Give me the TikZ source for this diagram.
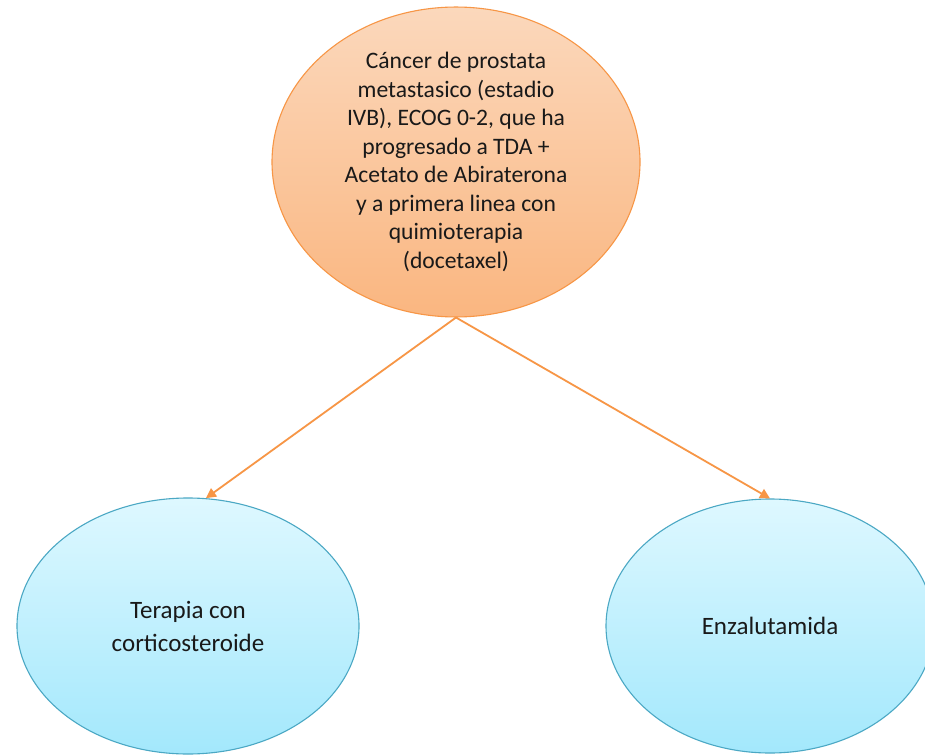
\documentclass[tikz,border=0pt]{standalone}
\usepackage{fontspec}
\setmainfont{Carlito}
\usetikzlibrary{shapes.geometric,arrows.meta,calc}
\definecolor{orgborder}{RGB}{247,150,70}
\definecolor{orgtop}{RGB}{251,216,188}
\definecolor{orgbot}{RGB}{250,182,128}
\definecolor{bluborder}{RGB}{75,168,196}
\definecolor{blutop}{RGB}{222,248,255}
\definecolor{blubot}{RGB}{163,232,252}
\definecolor{txt}{RGB}{25,25,25}
\tikzset{
  orangeell/.style={ellipse, draw=orgborder, line width=1.1pt, top color=orgtop, bottom color=orgbot,
    inner sep=0pt, align=center, text=txt, font=\fontsize{23.6}{28.5}\selectfont},
  blueell/.style={ellipse, draw=bluborder, line width=1.1pt, top color=blutop, bottom color=blubot,
    inner sep=0pt, align=center, text=txt, font=\fontsize{25}{33}\selectfont},
  conn/.style={draw=orgborder, line width=1.8pt, -{Triangle[length=10pt,width=10pt]}, color=orgborder}
}
\begin{document}
\begin{tikzpicture}[x=1pt,y=-1pt]
\useasboundingbox (0,0) rectangle (925,754);
\clip (0,0) rectangle (925,754);
\fill[white] (0,0) rectangle (925,754);
\node[orangeell, minimum width=368pt, minimum height=292pt] (top) at (456,162)
  {Cáncer de prostata\\metastasico (estadio\\IVB), ECOG 0-2, que ha\\progresado a TDA +\\Acetato de Abiraterona\\y a primera linea con\\quimioterapia\\(docetaxel)};
\node[blueell, minimum width=342pt, minimum height=256pt] (left) at (188,626)
  {Terapia con\\corticosteroide};
\node[blueell, minimum width=328pt, minimum height=254pt] (right) at (770,626)
  {Enzalutamida};
\draw[conn] (top.south) -- (left.82);
\draw[conn] (top.south) -- (right.north);
\end{tikzpicture}
\end{document}
